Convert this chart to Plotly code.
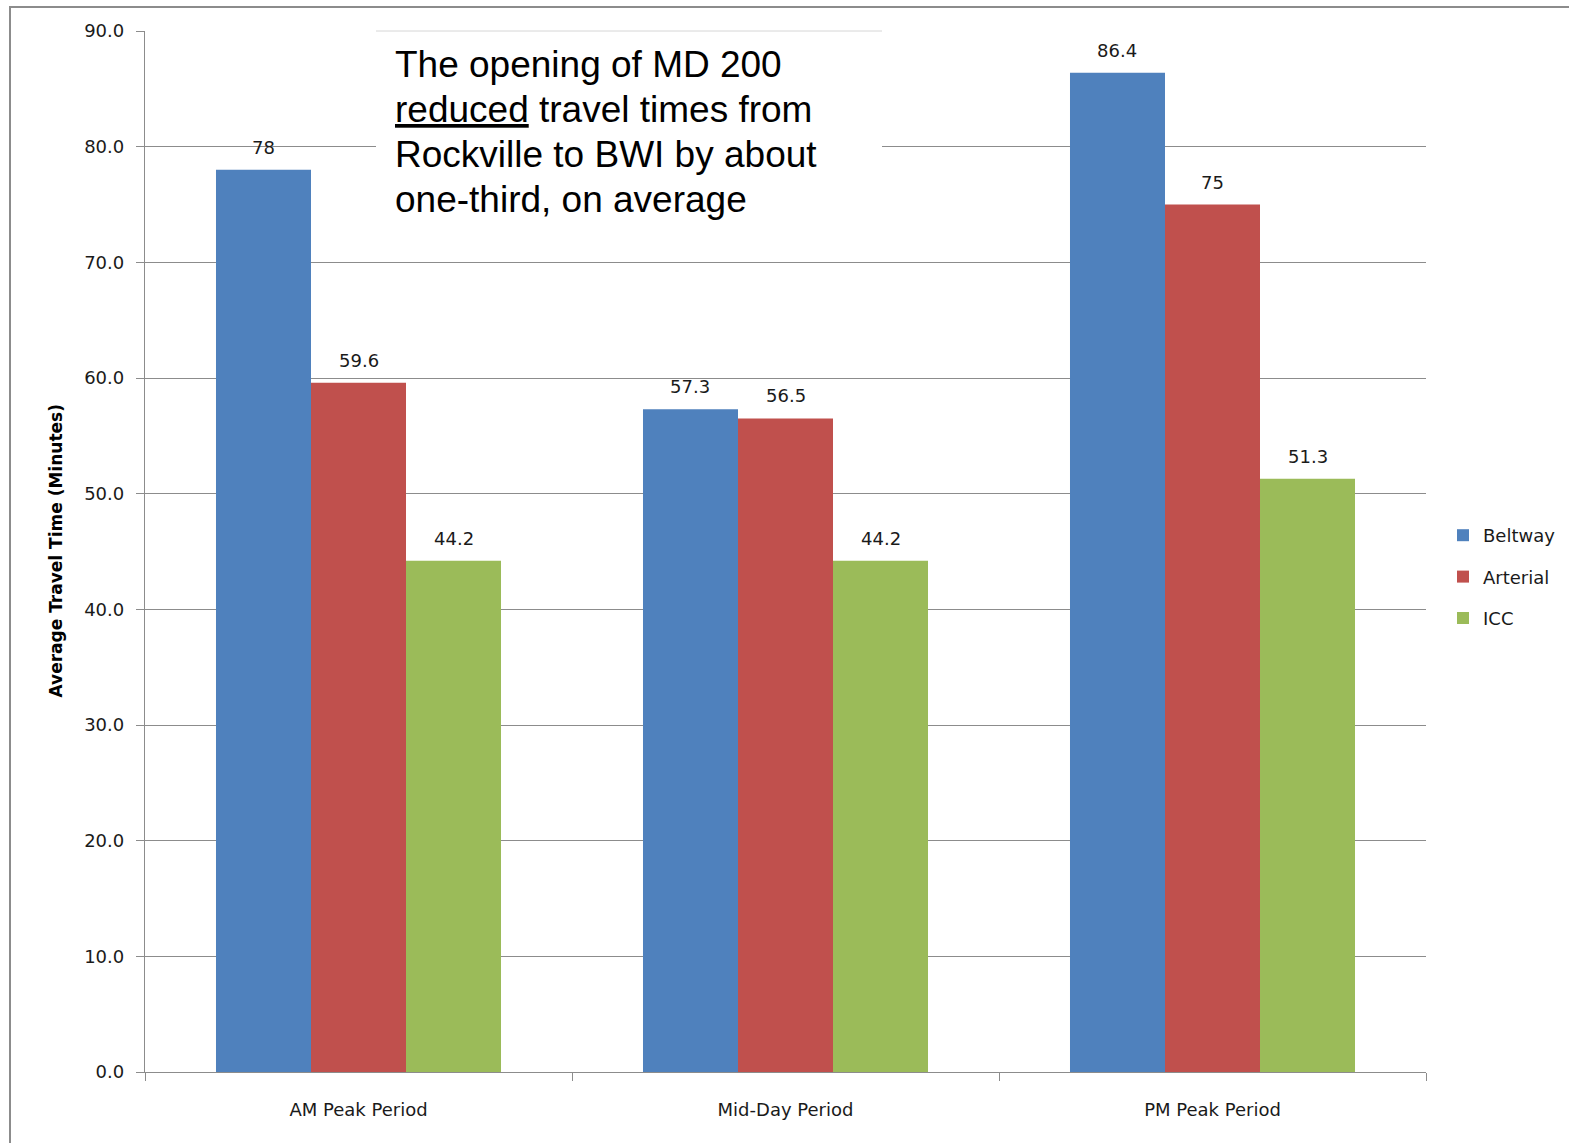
import plotly.graph_objects as go

# Travel time data (minutes), Rockville to BWI
periods = ["AM Peak Period", "Mid-Day Period", "PM Peak Period"]
routes = ["Beltway", "Arterial", "ICC"]
beltway = [78, 57.3, 86.4]
arterial = [59.6, 56.5, 75]
icc = [44.2, 44.2, 51.3]
series_values = [beltway, arterial, icc]
bar_colors = ["#4F81BD", "#C0504D", "#9BBB59"]

y_ticks = [0, 10, 20, 30, 40, 50, 60, 70, 80, 90]
note_lines = [
    "The opening of MD 200",
    "<u>reduced</u> travel times from",
    "Rockville to BWI by about",
    "one-third, on average",
]

W, H = 1569, 1143
ML, MR, MT, MB = 145, 143, 31, 71
PW, PH = W - ML - MR, H - MT - MB


def px_x(p):
    return (p - ML) / PW


def px_y(p):
    return (H - MB - p) / PH


BARGAP = 0.3325
bar_w = (1 - BARGAP) / len(routes)
offsets = [(k - 1) * bar_w for k in range(len(routes))]

FONT = "DejaVu Sans"
TXT = "#1a1a1a"

fig = go.Figure()
for k, (name, vals, col) in enumerate(zip(routes, series_values, bar_colors)):
    fig.add_trace(go.Bar(
        x=periods, y=vals, name=name,
        marker=dict(color=col, line=dict(width=0)),
        legendgroup=name,
    ))

annotations = []
# value labels above each bar
for k, vals in enumerate(series_values):
    for i, v in enumerate(vals):
        annotations.append(dict(
            x=i + offsets[k], y=v, xref="x", yref="y",
            text=f"{v:g}", showarrow=False, yanchor="bottom", yshift=10,
            font=dict(family=FONT, size=18, color=TXT),
        ))

# y-axis title
annotations.append(dict(
    x=px_x(55), y=0.5, xref="paper", yref="paper",
    text="<b>Average Travel Time (Minutes)</b>", textangle=-90,
    showarrow=False, xanchor="center", yanchor="middle",
    font=dict(family=FONT, size=17, color="#000000"),
))

# callout text, one line at a time
for j, line in enumerate(note_lines):
    annotations.append(dict(
        x=px_x(393), y=px_y(64.5 + 45 * j), xref="paper", yref="paper",
        text=line, showarrow=False, xanchor="left", yanchor="middle",
        font=dict(family="Liberation Sans, Arial", size=37, color="#000000"),
    ))

shapes = [
    # outer frame
    dict(type="rect", xref="paper", yref="paper",
         x0=px_x(10), x1=1.2, y0=-0.2, y1=px_y(7),
         line=dict(color="#8c8c8c", width=2), fillcolor="rgba(0,0,0,0)",
         layer="below"),
    # white box behind the callout
    dict(type="rect", xref="paper", yref="paper",
         x0=px_x(376), x1=px_x(882), y0=px_y(232), y1=px_y(32),
         line=dict(width=0), fillcolor="white", layer="above"),
    dict(type="line", xref="paper", yref="paper",
         x0=px_x(376), x1=px_x(882), y0=1, y1=1,
         line=dict(color="#d6d6d6", width=1), layer="above"),
]

grid_col = "#8c8c8c"
fig.update_layout(
    width=W, height=H,
    margin=dict(l=ML, r=MR, t=MT, b=MB, autoexpand=False),
    paper_bgcolor="white", plot_bgcolor="white",
    barmode="group", bargap=BARGAP, bargroupgap=0,
    showlegend=True,
    legend=dict(
        x=px_x(1443), xanchor="left", y=px_y(577), yanchor="middle",
        font=dict(family=FONT, size=18, color=TXT),
        traceorder="grouped", tracegroupgap=15, bgcolor="rgba(0,0,0,0)",
    ),
    xaxis=dict(
        type="category", categoryorder="array", categoryarray=periods,
        range=[-0.5, 2.5], tickson="boundaries",
        ticks="outside", ticklen=8, tickcolor=grid_col, tickwidth=1.3,
        showline=True, linecolor=grid_col, linewidth=1.3,
        showgrid=False, zeroline=False, ticklabelstandoff=21,
        tickfont=dict(family=FONT, size=18, color=TXT),
    ),
    yaxis=dict(
        range=[0, 90], tickvals=y_ticks, tickformat=".1f",
        ticks="outside", ticklen=8, tickcolor=grid_col, tickwidth=1.3,
        showline=True, linecolor=grid_col, linewidth=1.3,
        showgrid=True, gridcolor=grid_col, gridwidth=1.3, zeroline=False,
        ticklabelstandoff=8,
        tickfont=dict(family=FONT, size=18, color=TXT),
    ),
    annotations=annotations,
    shapes=shapes,
)

fig.write_html("out.html")
